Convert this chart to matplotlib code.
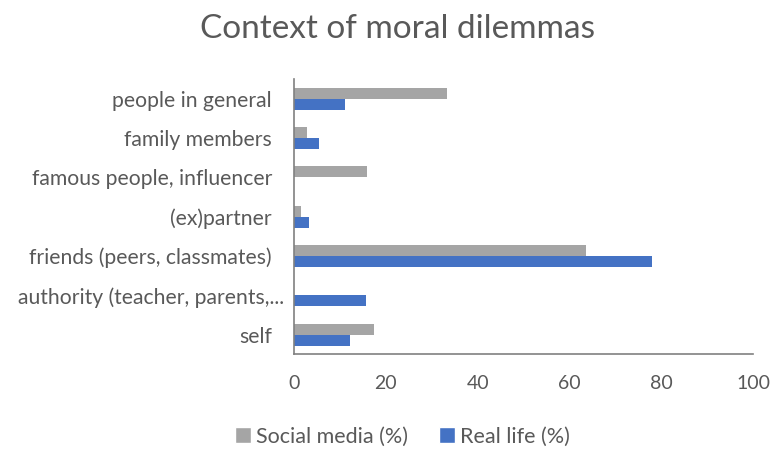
import numpy as np
import matplotlib.pyplot as plt
import matplotlib.transforms as mtransforms
from matplotlib.lines import Line2D

plt.rcParams['font.family'] = ['Lato', 'DejaVu Sans']

categories = ['self', 'authority (teacher, parents,...', 'friends (peers, classmates)',
              '(ex)partner', 'famous people, influencer', 'family members', 'people in general']
social_media = [17.4, 0, 63.7, 1.4, 15.9, 2.8, 33.3]
real_life = [12.2, 15.6, 77.9, 3.2, 0, 5.5, 11.1]
xticks = [0, 20, 40, 60, 80, 100]

grey = '#A5A5A5'
blue = '#4472C4'
txt = '#595959'

fig = plt.figure(figsize=(7.74, 4.5), dpi=100)
ax = fig.add_axes([0.380, 0.213, 0.593, 0.611])

y = np.arange(len(categories))
h = 0.28
ax.barh(y + h/2, social_media, height=h, color=grey)
ax.barh(y - h/2, real_life, height=h, color=blue)

ax.set_xlim(0, 100)
ax.set_ylim(-0.5, len(categories) - 0.5)
ax.set_xticks(xticks)
ax.set_yticks(y)
ax.set_yticklabels(categories)
ax.tick_params(axis='y', length=0, labelsize=15.2, colors=txt, pad=16)
ax.tick_params(axis='x', length=0, labelsize=14, colors=txt, pad=15)
for s in ['top', 'right']:
    ax.spines[s].set_visible(False)
for s in ['left', 'bottom']:
    ax.spines[s].set_color('#808080')
    ax.spines[s].set_linewidth(1.2)

# truncated label sits a bit further right, like the original
lab = ax.get_yticklabels()[1]
lab.set_transform(lab.get_transform() + mtransforms.ScaledTranslation(0.12, 0, fig.dpi_scale_trans))

fig.text(0.513, 0.936, 'Context of moral dilemmas', ha='center', va='center',
         fontsize=24, color=txt)

handles = [Line2D([], [], marker='s', color='w', markerfacecolor=grey, markersize=11, linestyle=''),
           Line2D([], [], marker='s', color='w', markerfacecolor=blue, markersize=11, linestyle='')]
fig.legend(handles, ['Social media (%)', 'Real life (%)'], loc='center',
           bbox_to_anchor=(0.518, 0.03), ncol=2, frameon=False, fontsize=15.5,
           labelcolor=txt, handletextpad=0.1, columnspacing=1.3, handlelength=1)

fig.savefig('out.png', dpi=100)
